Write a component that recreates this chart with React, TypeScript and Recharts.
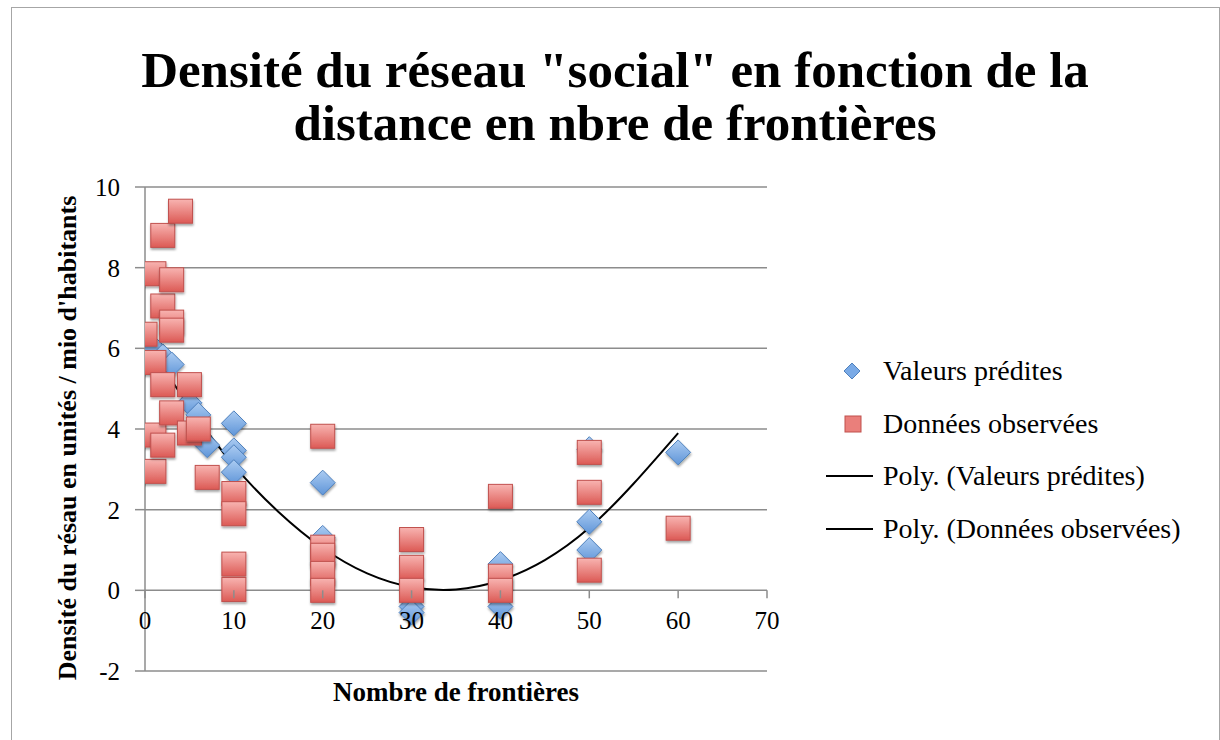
import React from 'react'
import { ComposedChart, Scatter, Line, XAxis, YAxis, CartesianGrid, Legend } from 'recharts'

const xTicks = [0, 10, 20, 30, 40, 50, 60, 70]
const yTicks = [-2, 0, 2, 4, 6, 8, 10]

// Valeurs prédites
const predictedX = [1, 2, 3, 5, 6, 7, 10, 10, 10, 10, 20, 20, 20, 30, 30, 40, 40, 50, 50, 50, 60]
const predictedY = [6.0, 5.8, 5.6, 4.65, 4.35, 3.6, 4.14, 3.47, 3.3, 2.93, 2.67, 1.3, 0.7, -0.4, -0.55, 0.65, -0.4, 3.5, 1.7, 1.0, 3.42]

// Données observées
const observedX = [0, 1, 1, 1, 1, 2, 2, 2, 2, 3, 3, 3, 3, 4, 5, 5, 6, 7, 10, 10, 10, 10, 20, 20, 20, 20, 20, 30, 30, 30, 40, 40, 40, 50, 50, 50, 60]
const observedY = [6.35, 7.85, 5.65, 3.85, 2.95, 8.8, 7.05, 5.1, 3.6, 7.7, 6.65, 6.45, 4.4, 9.4, 5.1, 3.9, 4.0, 2.8, 2.4, 1.9, 0.65, 0.02, 3.82, 1.07, 0.87, 0.42, 0.0, 1.26, 0.57, 0.0, 2.33, 0.35, 0.0, 3.42, 2.43, 0.5, 1.54]

// courbe de tendance polynomiale
const trendX = [0, 5, 10, 15, 20, 25, 30, 35, 40, 45, 50, 55, 60]
const trendY = [6.2, 4.55, 3.1, 1.95, 1.05, 0.42, 0.08, 0.02, 0.25, 0.75, 1.55, 2.65, 3.9]

const legendLabels = ['Valeurs prédites', 'Données observées', 'Poly. (Valeurs prédites)', 'Poly. (Données observées)']

const predicted = predictedX.map((x, i) => ({ x, y: predictedY[i] }))
const observed = observedX.map((x, i) => ({ x, y: observedY[i] }))
const trend = trendX.map((x, i) => ({ x, y: trendY[i] }))

const FONT = '"Liberation Serif", "Times New Roman", serif'
const GRID = '#8c8c8c'
const TOP = 187
const PLOT_H = 484
const ZERO_Y = TOP + (PLOT_H * 10) / 12

const Square = (props: any) => {
  const { cx, cy } = props
  if (cx == null || cy == null) return null
  return (
    <rect x={cx - 12} y={cy - 12} width={24} height={24}
      fill="url(#redGrad)" stroke="#c0504d" strokeWidth={1} filter="url(#shadow)" />
  )
}

const Diamond = (props: any) => {
  const { cx, cy } = props
  if (cx == null || cy == null) return null
  const r = 12.5
  return (
    <polygon points={`${cx},${cy - r} ${cx + r},${cy} ${cx},${cy + r} ${cx - r},${cy}`}
      fill="url(#blueGrad)" stroke="#4f81bd" strokeWidth={1} filter="url(#shadow)" />
  )
}

const XTick = (props: any) => {
  const { x, payload } = props
  return (
    <g>
      <line x1={x} x2={x} y1={ZERO_Y} y2={ZERO_Y + 8} stroke={GRID} strokeWidth={1.5} />
      <text x={x} y={ZERO_Y + 39} textAnchor="middle" fontSize={25} fontFamily={FONT} fill="#000">
        {payload.value}
      </text>
    </g>
  )
}

const LegendIcon = ({ i }: { i: number }) => (
  <svg width={48} height={22} style={{ display: 'block' }}>
    {i === 0 && <polygon points="26,3 34,11 26,19 18,11" fill="#7aaae6" stroke="#4f81bd" />}
    {i === 1 && <rect x={19} y={3} width={16} height={16} fill="#ea7f7b" stroke="#c0504d" />}
    {i >= 2 && <line x1={0} x2={47} y1={11} y2={11} stroke="#000" strokeWidth={2} />}
  </svg>
)

const LegendBox = () => (
  <div style={{ fontFamily: FONT, fontSize: 28, color: '#000' }}>
    {legendLabels.map((label, i) => (
      <div key={label} style={{ display: 'flex', alignItems: 'center', height: 52.5 }}>
        <LegendIcon i={i} />
        <span style={{ marginLeft: 9, whiteSpace: 'nowrap' }}>{label}</span>
      </div>
    ))}
  </div>
)

export default function App() {
  return (
    <div style={{ position: 'absolute', left: 0, top: 0, width: 1220, height: 740, background: '#fff', overflow: 'hidden' }}>
      <div style={{ position: 'absolute', left: 11, top: 7, width: 1207, height: 760, border: '1px solid #a6a6a6' }} />
      <div style={{
        position: 'absolute', left: 11, top: 44, width: 1208, textAlign: 'center',
        fontFamily: FONT, fontWeight: 'bold', fontSize: 51, lineHeight: '53px', color: '#000',
      }}>
        Densité du réseau "social" en fonction de la<br />distance en nbre de frontières
      </div>
      <div style={{
        position: 'absolute', left: 68 - 280, top: 438 - 17, width: 560, height: 34, lineHeight: '34px',
        textAlign: 'center', transform: 'rotate(-90deg)',
        fontFamily: FONT, fontWeight: 'bold', fontSize: 26, color: '#000', whiteSpace: 'nowrap',
      }}>
        Densité du résau en unités / mio d'habitants
      </div>
      <div style={{
        position: 'absolute', left: 145, top: 676, width: 622, textAlign: 'center',
        fontFamily: FONT, fontWeight: 'bold', fontSize: 27, lineHeight: '32px', color: '#000',
      }}>
        Nombre de frontières
      </div>
      <ComposedChart width={1220} height={740} margin={{ top: TOP, right: 453, left: 85, bottom: 39 }}
        style={{ position: 'absolute', left: 0, top: 0 }}>
        <defs>
          <linearGradient id="redGrad" x1="0" y1="0" x2="0" y2="1">
            <stop offset="0%" stopColor="#f8b4b1" />
            <stop offset="100%" stopColor="#dc5a55" />
          </linearGradient>
          <linearGradient id="blueGrad" x1="0" y1="0" x2="0" y2="1">
            <stop offset="0%" stopColor="#acccf2" />
            <stop offset="100%" stopColor="#5f95d8" />
          </linearGradient>
          <filter id="shadow" x="-30%" y="-30%" width="160%" height="170%">
            <feDropShadow dx="0.5" dy="2" stdDeviation="1.2" floodColor="#000" floodOpacity="0.35" />
          </filter>
        </defs>
        <CartesianGrid vertical={false} stroke={GRID} strokeWidth={1.5} />
        <XAxis dataKey="x" type="number" domain={[0, 70]} ticks={xTicks} height={30}
          axisLine={false} tickLine={false} tick={<XTick />} interval={0} allowDataOverflow />
        <YAxis type="number" domain={[-2, 10]} ticks={yTicks} width={60} interval={0}
          axisLine={{ stroke: GRID, strokeWidth: 1.5 }} tickLine={{ stroke: GRID, strokeWidth: 1.5 }}
          tickSize={10} tickMargin={15}
          tick={{ fontSize: 25, fontFamily: FONT, fill: '#000' }} />
        <Legend layout="vertical" align="center" verticalAlign="middle"
          wrapperStyle={{ position: 'absolute', left: 826, top: 345, width: 390 }}
          content={() => <LegendBox />} />
        <Scatter name="Valeurs prédites" data={predicted} dataKey="y" shape={Diamond} isAnimationActive={false} />
        <Scatter name="Données observées" data={observed} dataKey="y" shape={Square} isAnimationActive={false} />
        <Line name="Poly. (Valeurs prédites)" data={trend} dataKey="y" type="natural" stroke="#000"
          strokeWidth={2} dot={false} activeDot={false} isAnimationActive={false} />
      </ComposedChart>
    </div>
  )
}
